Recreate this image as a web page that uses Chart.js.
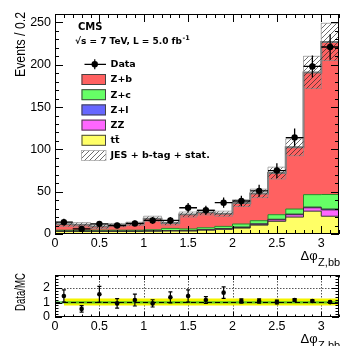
<!DOCTYPE html>
<html>
<head>
<meta charset="utf-8">
<script src="https://cdn.jsdelivr.net/npm/chart.js@4.4.0/dist/chart.umd.min.js"></script>
<style>
  html, body { margin: 0; padding: 0; background: #fff; }
  #wrap { position: relative; width: 346px; height: 346px; overflow: hidden; }
  #main { position: absolute; left: 0; top: 0; }
  #ratio { position: absolute; left: 0; top: 262px; }
</style>
</head>
<body>
<div id="wrap">
  <canvas id="main" width="346" height="272"></canvas>
  <canvas id="ratio" width="346" height="84"></canvas>
</div>
<script>
// bins of delta phi (width 0.2)
const binCenters = [0.1, 0.3, 0.5, 0.7, 0.9, 1.1, 1.3, 1.5, 1.7, 1.9, 2.1, 2.3, 2.5, 2.7, 2.9, 3.1];
const binHalf = 0.1;

// data
const dataCounts = [14, 6, 12, 10, 12.5, 16, 16, 31, 28, 37, 39, 51, 75, 114, 198, 221];
const dataErr = [4, 2.5, 3.5, 3.2, 3.5, 4, 4, 5.6, 5.3, 6.1, 6.2, 7.1, 8.7, 10.7, 13, 15];

// MC stack, bottom to top
const ttbar = [3, 3, 3, 3, 3, 3.2, 3.5, 3.5, 4.5, 5.5, 7, 10.5, 15, 20, 27, 21];
const zz = [0.2, 0.2, 0.2, 0.2, 0.2, 0.3, 0.3, 0.3, 0.4, 0.5, 0.7, 1, 1.8, 2.8, 4, 7.5];
const zl = [0.3, 0.3, 0.3, 0.3, 0.3, 0.3, 0.3, 0.3, 0.3, 0.4, 0.5, 0.5, 0.6, 0.7, 0.8, 1];
const zc = [1, 1, 1, 1, 1, 1.2, 2.5, 1.9, 2.2, 2.6, 3.6, 3.7, 5.4, 6, 14.7, 17.2];
const zb = [7, 6.5, 4.5, 6, 7.5, 13, 6.4, 17, 18.1, 15, 24.7, 32.3, 49.2, 73, 144.5, 180.3];
const mcUnc = [2.5, 2.5, 2.5, 2, 2, 3, 2.5, 3, 3, 3, 4, 5, 7, 10, 19, 22];

// ratio panel
const ratioVals = [1.45, 0.56, 1.57, 0.94, 1.17, 0.94, 1.36, 1.45, 1.17, 1.68, 1.1, 1.1, 1.03, 1.17, 1.1, 1.03];
const ratioErr = [0.42, 0.23, 0.55, 0.33, 0.41, 0.25, 0.38, 0.42, 0.23, 0.4, 0.15, 0.15, 0.13, 0.1, 0.08, 0.07];
const yellowBandX = [0.1, 3.2];
const yellowLo = [0.8, 0.8];
const yellowHi = [1.27, 1.27];
const greenBandX = [0, 3.2];
const greenLo = [0.94, 0.94];
const greenHi = [1.08, 1.08];

// axes
const xTicks = [0, 0.5, 1, 1.5, 2, 2.5, 3];
const yTicksMain = [0, 50, 100, 150, 200, 250];
const yTicksRatio = [0, 1, 2];

const colors = { zb: '#ff6161', zc: '#66ff66', zl: '#6666ff', zz: '#ff66ff', tt: '#ffff66' };
const tickFont = { family: "'Liberation Sans', Arial, sans-serif", size: 12.5 };
const legendFont = "bold 9.5px 'DejaVu Sans', sans-serif";

function pts(xs, ys) { return xs.map((x, i) => ({ x, y: ys[i] })); }
// histogram outline: one point per left edge plus the last right edge
function stepPts(vals) {
  const p = binCenters.map((c, i) => ({ x: c - binHalf, y: vals[i] }));
  p.push({ x: binCenters[binCenters.length - 1] + binHalf, y: vals[vals.length - 1] });
  return p;
}

function makeHatch() {
  const c = document.createElement('canvas');
  c.width = 5; c.height = 5;
  const g = c.getContext('2d');
  g.strokeStyle = 'rgba(40,40,40,0.85)';
  g.lineWidth = 0.8;
  g.beginPath();
  g.moveTo(0, 5); g.lineTo(5, 0);
  g.moveTo(-1, 1); g.lineTo(1, -1);
  g.moveTo(4, 6); g.lineTo(6, 4);
  g.stroke();
  return g.createPattern(c, 'repeat');
}
const hatch = makeHatch();

const mcTotal = binCenters.map((_, i) => ttbar[i] + zz[i] + zl[i] + zc[i] + zb[i]);
const uncLo = mcTotal.map((v, i) => v - mcUnc[i]);
const uncHi = mcTotal.map((v, i) => v + mcUnc[i]);

// ROOT-like frame with inward ticks on all four sides
function drawFrame(chart, o) {
  const { ctx, chartArea: a } = chart;
  const x = chart.scales.x, y = chart.scales.y;
  ctx.save();
  ctx.strokeStyle = '#000';
  ctx.lineWidth = 1;
  ctx.beginPath();
  for (let k = 0; k <= 32; k++) {
    const px = Math.round(x.getPixelForValue(k / 10)) + 0.5;
    const len = k % 5 === 0 ? o.xMaj : o.xMin;
    ctx.moveTo(px, a.bottom); ctx.lineTo(px, a.bottom - len);
    ctx.moveTo(px, a.top); ctx.lineTo(px, a.top + len);
  }
  for (let v = 0; v <= y.max + 1e-9; v += o.yStep) {
    const py = Math.round(y.getPixelForValue(v)) + 0.5;
    const major = Math.abs(v / o.yMajStep - Math.round(v / o.yMajStep)) < 1e-6;
    const len = major ? o.yMaj : o.yMin;
    ctx.moveTo(a.left, py); ctx.lineTo(a.left + len, py);
    ctx.moveTo(a.right, py); ctx.lineTo(a.right - len, py);
  }
  ctx.stroke();
  ctx.strokeRect(a.left + 0.5, a.top + 0.5, a.right - a.left - 1, a.bottom - a.top - 1);
  ctx.restore();
}

// rotated axis title squeezed to a given length
function yTitle(ctx, text, xBase, yTop, len, size) {
  ctx.save();
  ctx.translate(xBase, yTop);
  ctx.rotate(-Math.PI / 2);
  ctx.font = size + "px 'Liberation Sans', Arial, sans-serif";
  const w = ctx.measureText(text).width;
  ctx.scale(len / w, 1);
  ctx.fillStyle = '#000';
  ctx.textAlign = 'right';
  ctx.textBaseline = 'alphabetic';
  ctx.fillText(text, 0, 0);
  ctx.restore();
}

function xTitle(ctx, x, base) {
  ctx.save();
  ctx.fillStyle = '#000';
  ctx.textBaseline = 'alphabetic';
  ctx.font = "13px 'Liberation Sans', Arial, sans-serif";
  ctx.fillText('\u0394\u03c6', x, base);
  const w = ctx.measureText('\u0394\u03c6').width;
  ctx.font = "11px 'Liberation Sans', Arial, sans-serif";
  ctx.fillText('Z,bb', x + w + 0.5, base + 6);
  ctx.restore();
}

function errorBars(chart, vals, errs, opts) {
  const { ctx } = chart;
  const x = chart.scales.x, y = chart.scales.y;
  ctx.save();
  ctx.strokeStyle = '#000';
  ctx.lineWidth = opts.lw;
  ctx.beginPath();
  binCenters.forEach((c, i) => {
    const px = x.getPixelForValue(c);
    const y0 = y.getPixelForValue(vals[i] - errs[i]);
    const y1 = y.getPixelForValue(vals[i] + errs[i]);
    ctx.moveTo(px, y0); ctx.lineTo(px, y1);
    if (opts.xerr) {
      const py = y.getPixelForValue(vals[i]);
      ctx.moveTo(x.getPixelForValue(c - binHalf), py);
      ctx.lineTo(x.getPixelForValue(c + binHalf), py);
    }
    if (opts.cap) {
      ctx.moveTo(px - opts.cap, y0); ctx.lineTo(px + opts.cap, y0);
      ctx.moveTo(px - opts.cap, y1); ctx.lineTo(px + opts.cap, y1);
    }
  });
  ctx.stroke();
  ctx.restore();
}

function drawLegend(ctx) {
  ctx.save();
  ctx.fillStyle = '#000';
  ctx.textBaseline = 'middle';
  ctx.font = "bold 10px 'DejaVu Sans', sans-serif";
  ctx.fillText('CMS', 78, 27);
  ctx.font = "bold 9px 'DejaVu Sans', sans-serif";
  const t = '\u221as = 7 TeV, L = 5.0 fb';
  ctx.fillText(t, 75, 42);
  const tw = ctx.measureText(t).width;
  ctx.font = "bold 6.5px 'DejaVu Sans', sans-serif";
  ctx.fillText('-1', 75 + tw + 0.5, 38);

  const items = [
    { label: 'Data', kind: 'data' },
    { label: 'Z+b', fill: colors.zb },
    { label: 'Z+c', fill: colors.zc },
    { label: 'Z+l', fill: colors.zl },
    { label: 'ZZ', fill: colors.zz },
    { label: 't\u0074\u0304', fill: colors.tt },
    { label: 'JES + b-tag + stat.', kind: 'hatch' }
  ];
  const x0 = 81.5, x1 = 106, y0 = 64.3, dy = 15.2;
  items.forEach((it, i) => {
    const yc = y0 + i * dy;
    if (it.kind === 'data') {
      ctx.strokeStyle = '#000';
      ctx.lineWidth = 1.2;
      ctx.beginPath();
      ctx.moveTo(x0 + 3, yc); ctx.lineTo(x1, yc);
      ctx.moveTo((x0 + x1) / 2 + 1, yc - 5); ctx.lineTo((x0 + x1) / 2 + 1, yc + 5);
      ctx.stroke();
      ctx.beginPath();
      ctx.arc((x0 + x1) / 2 + 1, yc, 3.2, 0, Math.PI * 2);
      ctx.fillStyle = '#000';
      ctx.fill();
    } else if (it.kind === 'hatch') {
      ctx.fillStyle = hatch;
      ctx.fillRect(x0, yc - 5, x1 - x0, 10);
      ctx.strokeStyle = 'rgba(150,150,150,0.8)';
      ctx.lineWidth = 0.8;
      ctx.strokeRect(x0, yc - 5, x1 - x0, 10);
    } else {
      ctx.fillStyle = it.fill;
      ctx.fillRect(x0, yc - 5.5, x1 - x0, 11);
      ctx.strokeStyle = '#444';
      ctx.lineWidth = 1;
      ctx.strokeRect(x0 + 0.5, yc - 5, x1 - x0 - 1, 10);
    }
    ctx.fillStyle = '#000';
    ctx.font = legendFont;
    ctx.fillText(it.label, 110.5, yc + 0.5);
  });
  ctx.restore();
}

const mainDecor = {
  id: 'mainDecor',
  afterDatasetsDraw(chart) {
    errorBars(chart, dataCounts, dataErr, { lw: 1.3, xerr: true });
  },
  afterDraw(chart) {
    const ctx = chart.ctx;
    drawFrame(chart, { xMaj: 8, xMin: 4, yStep: 10, yMajStep: 50, yMaj: 8, yMin: 4 });
    yTitle(ctx, 'Events / 0.2', 25, 12, 65, 15);
    xTitle(ctx, 300.5, 259.5);
    drawLegend(ctx);
  }
};

const ratioDecor = {
  id: 'ratioDecor',
  beforeDatasetsDraw(chart) {
    const { ctx, chartArea: a } = chart;
    const x = chart.scales.x, y = chart.scales.y;
    ctx.save();
    ctx.strokeStyle = '#555';
    ctx.lineWidth = 1;
    ctx.setLineDash([1.5, 1.5]);
    ctx.beginPath();
    xTicks.slice(1).forEach(v => {
      const px = Math.round(x.getPixelForValue(v)) + 0.5;
      ctx.moveTo(px, a.top); ctx.lineTo(px, a.bottom);
    });
    yTicksRatio.slice(1).forEach(v => {
      const py = Math.round(y.getPixelForValue(v)) + 0.5;
      ctx.moveTo(a.left, py); ctx.lineTo(a.right, py);
    });
    ctx.stroke();
    ctx.restore();
  },
  afterDatasetsDraw(chart) {
    errorBars(chart, ratioVals, ratioErr, { lw: 1.2, cap: 2 });
  },
  afterDraw(chart) {
    const ctx = chart.ctx;
    drawFrame(chart, { xMaj: 5, xMin: 2.5, yStep: 0.2, yMajStep: 1, yMaj: 7, yMin: 3.5 });
    yTitle(ctx, 'Data/MC', 25, 11, 38, 15);
    xTitle(ctx, 300.5, 81);
  }
};

function stepLine(vals, bg, border, bw, fill, stack) {
  return {
    type: 'line', data: stepPts(vals), stepped: 'before', stack,
    borderColor: border, borderWidth: bw, backgroundColor: bg, fill,
    pointRadius: 0
  };
}

function xAxis(height, pad) {
  return {
    type: 'linear', min: 0, max: 3.2,
    grid: { display: false, drawTicks: false }, border: { display: false },
    afterBuildTicks: s => { s.ticks = xTicks.map(v => ({ value: v })); },
    afterFit: s => { s.height = height; },
    ticks: { font: tickFont, color: '#000', padding: pad, maxRotation: 0, callback: v => String(v) }
  };
}

new Chart(document.getElementById('main'), {
  type: 'line',
  data: {
    datasets: [
      { type: 'line', data: pts(binCenters, dataCounts), showLine: false, stack: 'data',
        pointRadius: 3.2, pointBackgroundColor: '#000', pointBorderColor: '#000', pointBorderWidth: 0 },
      stepLine(uncHi, hatch, 'rgba(140,140,140,0.7)', 1, '+1', 'uhi'),
      stepLine(uncLo, 'transparent', 'rgba(140,140,140,0.7)', 1, false, 'ulo'),
      stepLine(ttbar, colors.tt, '#333', 1, 'origin', 'mc'),
      stepLine(zz, colors.zz, '#333', 1, '-1', 'mc'),
      stepLine(zl, colors.zl, '#333', 1, '-1', 'mc'),
      stepLine(zc, colors.zc, '#2a8a2a', 1, '-1', 'mc'),
      stepLine(zb, colors.zb, '#777', 2, '-1', 'mc')
    ]
  },
  options: {
    responsive: false, animation: false, devicePixelRatio: 1, events: [],
    layout: { padding: { left: 0, right: 7, top: 14, bottom: 0 } },
    plugins: { legend: { display: false }, tooltip: { enabled: false } },
    scales: {
      x: xAxis(38, 2),
      y: {
        min: 0, max: 260, stacked: true,
        grid: { display: false, drawTicks: false }, border: { display: false },
        afterBuildTicks: s => { s.ticks = yTicksMain.map(v => ({ value: v })); },
        afterFit: s => { s.width = 55; },
        ticks: { font: tickFont, color: '#000', padding: 4 }
      }
    }
  },
  plugins: [mainDecor]
});

new Chart(document.getElementById('ratio'), {
  type: 'line',
  data: {
    datasets: [
      { data: pts(binCenters, ratioVals), showLine: false,
        pointRadius: 2.3, pointBackgroundColor: '#000', pointBorderColor: '#000', pointBorderWidth: 0 },
      { data: pts([0, 3.2], [1, 1]), borderColor: '#000', borderWidth: 1, borderDash: [5, 3], pointRadius: 0, fill: false },
      { data: pts(greenBandX, greenHi), borderWidth: 0, pointRadius: 0, fill: '+1', backgroundColor: 'rgba(40,180,40,0.75)' },
      { data: pts(greenBandX, greenLo), borderWidth: 0, pointRadius: 0, fill: false },
      { data: pts(yellowBandX, yellowHi), borderWidth: 0, pointRadius: 0, fill: '+1', backgroundColor: '#f4f400' },
      { data: pts(yellowBandX, yellowLo), borderWidth: 0, pointRadius: 0, fill: false }
    ]
  },
  options: {
    responsive: false, animation: false, devicePixelRatio: 1, events: [],
    layout: { padding: { left: 0, right: 7, top: 13, bottom: 0 } },
    plugins: { legend: { display: false }, tooltip: { enabled: false } },
    scales: {
      x: xAxis(29, 2),
      y: {
        min: 0, max: 2.9,
        grid: { display: false, drawTicks: false }, border: { display: false },
        afterBuildTicks: s => { s.ticks = yTicksRatio.map(v => ({ value: v })); },
        afterFit: s => { s.width = 55; },
        ticks: { font: tickFont, color: '#000', padding: 5 }
      }
    }
  },
  plugins: [ratioDecor]
});
</script>
</body>
</html>
